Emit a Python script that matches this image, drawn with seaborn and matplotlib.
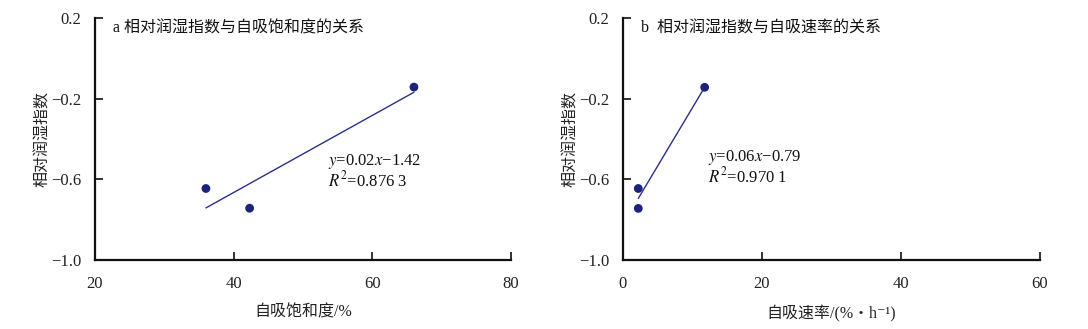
import matplotlib
matplotlib.use("Agg")
import matplotlib.pyplot as plt
import seaborn as sns
import numpy as np

# Panel a data
sat_x = [36.0, 42.3, 66.0]
sat_y = [-0.646, -0.744, -0.142]
# Panel b data
rate_x = [2.2, 2.2, 11.75]
rate_y = [-0.646, -0.745, -0.143]

x_ticks_a = [20, 40, 60, 80]
x_ticks_b = [0, 20, 40, 60]
y_ticks = [-1.0, -0.6, -0.2, 0.2]

titles = ["a 相对润湿指数与自吸饱和度的关系", "b  相对润湿指数与自吸速率的关系"]
xlabels = ["自吸饱和度/%", "自吸速率/(%・h⁻¹)"]
ylabel = "相对润湿指数"
eqs = [("$y$=0.02$x$−1.42", "$R^2$=0.876 3"), ("$y$=0.06$x$−0.79", "$R^2$=0.970 1")]

sns.set_style("ticks")
plt.rcParams['font.family'] = ['Liberation Serif', 'Noto Sans CJK SC', 'DejaVu Serif', 'DejaVu Sans']
plt.rcParams['mathtext.fontset'] = 'stix'
plt.rcParams['axes.unicode_minus'] = True

fig = plt.figure(figsize=(10.88, 3.29), dpi=100)
ax1 = fig.add_axes([0.0873, 0.2106, 0.3824, 0.7338])
ax2 = fig.add_axes([0.5726, 0.2106, 0.3833, 0.7338])

pt_color = "#1c2378"
ln_color = "#2a2f8c"
txt_color = "#222222"

for ax, xs, ys, xt, title, xl, eq, eqpos in [
    (ax1, sat_x, sat_y, x_ticks_a, titles[0], xlabels[0], eqs[0], (53.6, -0.51, -0.605)),
    (ax2, rate_x, rate_y, x_ticks_b, titles[1], xlabels[1], eqs[1], (12.2, -0.49, -0.585)),
]:
    sns.regplot(x=xs, y=ys, ax=ax, ci=None, truncate=True,
                scatter_kws=dict(s=40, color=pt_color, edgecolor='none', alpha=1, zorder=3),
                line_kws=dict(color=ln_color, lw=1.0))
    ax.set_xlim(xt[0], xt[-1])
    ax.set_ylim(-1.0, 0.2)
    ax.set_xticks(xt)
    ax.set_yticks(y_ticks)
    ax.set_yticklabels(["−1.0", "−0.6", "−0.2", "0.2"])
    for s in ["top", "right"]:
        ax.spines[s].set_visible(False)
    for s in ["left", "bottom"]:
        ax.spines[s].set_linewidth(1.6)
        ax.spines[s].set_color("#111111")
    ax.tick_params(direction='in', length=6, width=1.2, labelsize=12,
                   colors="#111111", labelcolor=txt_color, pad=10)
    ax.tick_params(axis='x', pad=12)
    ax.set_xlabel(xl, fontsize=11.5, color=txt_color, labelpad=9)
    ax.set_ylabel(ylabel, fontsize=11.5, color=txt_color, labelpad=0)
    ax.text(0.043, 0.956, title, transform=ax.transAxes, fontsize=11.5,
            va='center', ha='left', color="#111111")
    ax.text(eqpos[0], eqpos[1], eq[0], fontsize=12, color="#111111", va='center')
    ax.text(eqpos[0], eqpos[2], eq[1], fontsize=12, color="#111111", va='center')

fig.savefig("out.png", dpi=100)
